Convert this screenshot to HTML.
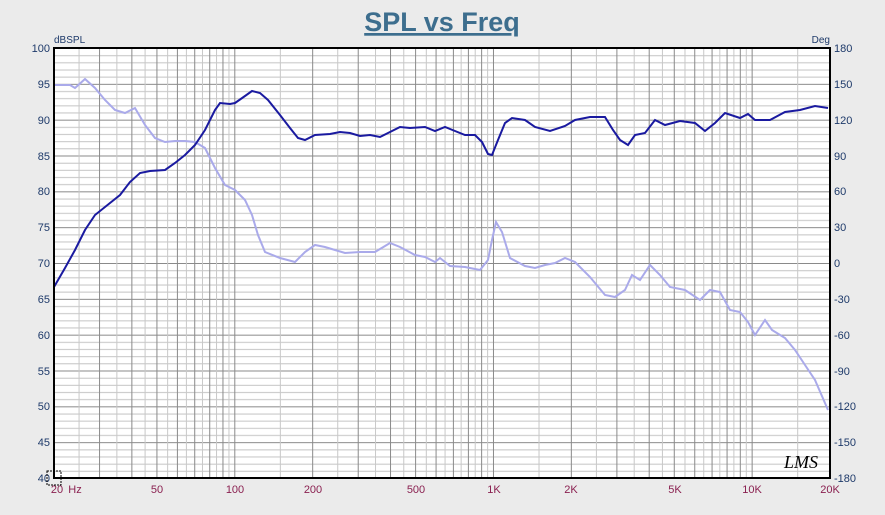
<!DOCTYPE html>
<html><head><meta charset="utf-8"><style>
body{margin:0;background:#ebebeb;width:885px;height:510px;overflow:hidden;font-family:"Liberation Sans",sans-serif}
</style></head><body>
<svg width="885" height="510" xmlns="http://www.w3.org/2000/svg" font-family="Liberation Sans, sans-serif">
<defs>
<pattern id="hg" patternUnits="userSpaceOnUse" x="0" y="48" width="885" height="35.8333">
<line x1="0" x2="885" y1="7.67" y2="7.67" stroke="#c4c4c4" stroke-width="1"/>
<line x1="0" x2="885" y1="14.83" y2="14.83" stroke="#c4c4c4" stroke-width="1"/>
<line x1="0" x2="885" y1="22" y2="22" stroke="#c4c4c4" stroke-width="1"/>
<line x1="0" x2="885" y1="29.17" y2="29.17" stroke="#c4c4c4" stroke-width="1"/>
<line x1="0" x2="885" y1="0.5" y2="0.5" stroke="#8a8a8a" stroke-width="1"/>
</pattern>
</defs>
<rect width="885" height="510" fill="#ebebeb"/>
<text x="442" y="31" text-anchor="middle" font-size="27" font-weight="bold" fill="#3d6e8e" text-decoration="underline">SPL vs Freq</text>
<rect x="54" y="48" width="776" height="430" fill="#fff"/>
<rect x="54" y="48" width="776" height="430" fill="url(#hg)"/>
<path fill="none" stroke="#c8c8c8" stroke-width="1" d="M79.07 48V478M116.86 48V478M145.09 48V478M167.64 48V478M186.4 48V478M202.48 48V478M216.54 48V478M228.96 48V478M280.35 48V478M337.74 48V478M375.53 48V478M403.76 48V478M426.31 48V478M445.07 48V478M461.15 48V478M475.21 48V478M487.63 48V478M539.02 48V478M596.41 48V478M634.2 48V478M662.43 48V478M684.98 48V478M703.74 48V478M719.82 48V478M733.88 48V478M746.3 48V478M797.69 48V478"/>
<path fill="none" stroke="#8a8a8a" stroke-width="1" d="M99.55 48V478M131.86 48V478M156.93 48V478M177.41 48V478M194.73 48V478M209.73 48V478M222.96 48V478M234.8 48V478M312.67 48V478M358.22 48V478M390.53 48V478M415.6 48V478M436.08 48V478M453.4 48V478M468.4 48V478M481.63 48V478M493.47 48V478M571.34 48V478M616.89 48V478M649.2 48V478M674.27 48V478M694.75 48V478M712.07 48V478M727.07 48V478M740.3 48V478M752.14 48V478"/>
<polyline fill="none" stroke="#aaaaea" stroke-width="2" points="54,85 70,85 75,88 85,79 95,88 105,100 115,110 125,113 135,108 145,125 155,138 165,142 175,141 185,141 195,142 205,148 215,168 225,185 235,190 245,200 252,215 258,235 265,252 280,258 295,262 305,252 315,245 325,247 335,250 345,253 360,252 375,252 390,243 400,247 415,255 425,257 435,262 440,258 450,266 465,267 480,270 488,260 492,240 496,222 502,232 510,258 525,266 535,268 545,265 555,263 565,258 575,262 590,277 605,295 615,297 625,290 632,275 640,280 650,265 660,275 670,287 685,290 700,300 710,290 720,292 730,310 740,312 748,322 755,335 765,320 772,330 785,338 795,350 805,365 815,380 828,410"/>
<polyline fill="none" stroke="#1a1aa0" stroke-width="2" points="54,287 65,268 75,250 85,230 95,215 110,203 120,195 130,182 140,173 150,171 165,170 175,163 185,155 195,145 205,130 215,110 220,103 230,104 235,103 245,96 252,91 260,93 268,100 280,115 290,128 298,138 305,140 315,135 330,134 340,132 350,133 360,136 370,135 380,137 390,132 400,127 410,128 425,127 435,131 445,127 455,131 465,135 475,135 482,142 488,154 492,155 498,140 505,123 512,118 525,120 535,127 550,131 565,126 575,120 590,117 605,117 613,130 620,140 628,145 635,135 645,133 655,120 665,125 680,121 695,123 705,131 715,123 725,113 740,118 748,114 755,120 770,120 785,112 800,110 815,106 828,108"/>
<rect x="54" y="48" width="776" height="430" fill="none" stroke="#000" stroke-width="2"/>
<g font-size="11" fill="#1e3a6a" text-anchor="end">
<text x="50" y="52">100</text><text x="50" y="88">95</text><text x="50" y="124">90</text><text x="50" y="160">85</text><text x="50" y="195">80</text><text x="50" y="231">75</text><text x="50" y="267">70</text><text x="50" y="303">65</text><text x="50" y="339">60</text><text x="50" y="375">55</text><text x="50" y="410">50</text><text x="50" y="446">45</text><text x="50" y="482">40</text>
</g>
<text x="54" y="43" font-size="10" fill="#1e3a6a">dBSPL</text>
<text x="830" y="43" font-size="10" fill="#1e3a6a" text-anchor="end">Deg</text>
<g font-size="11" fill="#1e3a6a" text-anchor="start">
<text x="834" y="52">180</text><text x="834" y="88">150</text><text x="834" y="124">120</text><text x="834" y="160">90</text><text x="834" y="195">60</text><text x="834" y="231">30</text><text x="834" y="267">0</text><text x="834" y="303">-30</text><text x="834" y="339">-60</text><text x="834" y="375">-90</text><text x="834" y="410">-120</text><text x="834" y="446">-150</text><text x="834" y="482">-180</text>
</g>
<g font-size="11" fill="#8a2050" text-anchor="middle">
<text x="57" y="493">20</text><text x="75" y="493">Hz</text><text x="157" y="493">50</text><text x="235" y="493">100</text><text x="313" y="493">200</text><text x="416" y="493">500</text><text x="494" y="493">1K</text><text x="571" y="493">2K</text><text x="675" y="493">5K</text><text x="752" y="493">10K</text><text x="830" y="493">20K</text>
</g>
<text x="784" y="468" font-size="18" font-style="italic" font-family="Liberation Serif, serif" fill="#000">LMS</text>
<rect x="47" y="471" width="14" height="14" fill="none" stroke="#000" stroke-width="1" stroke-dasharray="2,1"/>
</svg>
</body></html>
